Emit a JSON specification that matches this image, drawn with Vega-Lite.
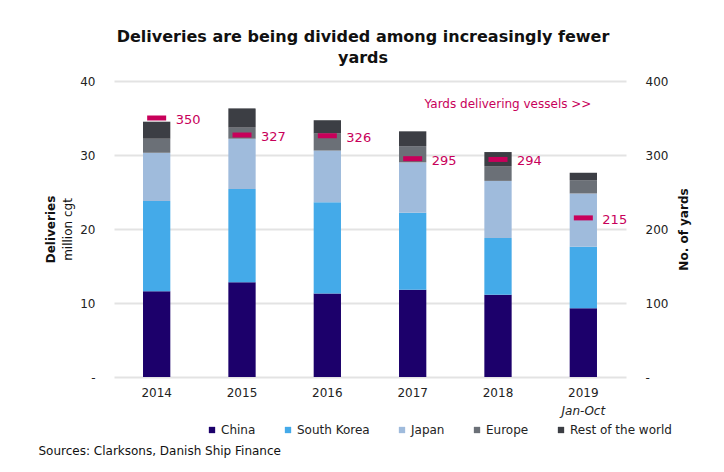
{
  "$schema": "https://vega.github.io/schema/vega-lite/v6.json",
  "width": 512,
  "height": 296,
  "autosize": {"type": "none"},
  "padding": {"left": 114, "top": 81, "right": 98, "bottom": 95},
  "background": "white",
  "config": {
    "view": {"stroke": null},
    "font": "DejaVu Sans",
    "axis": {"labelFont": "DejaVu Sans", "titleFont": "DejaVu Sans", "labelColor": "#222", "titleColor": "#111"},
    "legend": {"labelFont": "DejaVu Sans"}
  },
  "title": {
    "text": ["Deliveries are being divided among increasingly fewer", "yards"],
    "fontSize": 16,
    "fontWeight": "bold",
    "color": "#111",
    "lineHeight": 21,
    "offset": 9,
    "dx": -7
  },
  "datasets": {
    "deliveries": [
      {"year": "2014", "region": "China", "value": 11.6},
      {"year": "2014", "region": "South Korea", "value": 12.2},
      {"year": "2014", "region": "Japan", "value": 6.5},
      {"year": "2014", "region": "Europe", "value": 1.9},
      {"year": "2014", "region": "Rest of the world", "value": 2.3},
      {"year": "2015", "region": "China", "value": 12.8},
      {"year": "2015", "region": "South Korea", "value": 12.6},
      {"year": "2015", "region": "Japan", "value": 6.8},
      {"year": "2015", "region": "Europe", "value": 1.5},
      {"year": "2015", "region": "Rest of the world", "value": 2.6},
      {"year": "2016", "region": "China", "value": 11.3},
      {"year": "2016", "region": "South Korea", "value": 12.3},
      {"year": "2016", "region": "Japan", "value": 7.0},
      {"year": "2016", "region": "Europe", "value": 2.3},
      {"year": "2016", "region": "Rest of the world", "value": 1.8},
      {"year": "2017", "region": "China", "value": 11.8},
      {"year": "2017", "region": "South Korea", "value": 10.4},
      {"year": "2017", "region": "Japan", "value": 6.8},
      {"year": "2017", "region": "Europe", "value": 2.2},
      {"year": "2017", "region": "Rest of the world", "value": 2.0},
      {"year": "2018", "region": "China", "value": 11.1},
      {"year": "2018", "region": "South Korea", "value": 7.7},
      {"year": "2018", "region": "Japan", "value": 7.7},
      {"year": "2018", "region": "Europe", "value": 2.0},
      {"year": "2018", "region": "Rest of the world", "value": 1.9},
      {"year": "2019", "region": "China", "value": 9.3},
      {"year": "2019", "region": "South Korea", "value": 8.3},
      {"year": "2019", "region": "Japan", "value": 7.2},
      {"year": "2019", "region": "Europe", "value": 1.8},
      {"year": "2019", "region": "Rest of the world", "value": 1.0}
    ],
    "yards": [
      {"year": "2014", "yards": 350},
      {"year": "2015", "yards": 327},
      {"year": "2016", "yards": 326},
      {"year": "2017", "yards": 295},
      {"year": "2018", "yards": 294},
      {"year": "2019", "yards": 215}
    ],
    "annotation": [
      {"year": "2018", "yards": 369, "label": "Yards delivering vessels >>"}
    ],
    "notes": [
      {"year": "2019", "note": "Jan-Oct"}
    ]
  },
  "layer": [
    {
      "data": {"name": "deliveries"},
      "transform": [
        {"calculate": "indexof(['China', 'South Korea', 'Japan', 'Europe', 'Rest of the world'], datum.region)", "as": "stackOrder"}
      ],
      "mark": {"type": "bar"},
      "encoding": {
        "x": {
          "field": "year",
          "type": "ordinal",
          "scale": {"paddingInner": 0.68, "paddingOuter": 0.34},
          "axis": {
            "labelAngle": 0,
            "labelFontSize": 12,
            "labelPadding": 10,
            "domain": false,
            "ticks": false,
            "title": "Sources: Clarksons, Danish Ship Finance",
            "titleFontSize": 12,
            "titleFontWeight": "normal",
            "titleAlign": "left",
            "titleBaseline": "middle",
            "titleX": -76,
            "titleY": 73
          }
        },
        "y": {
          "field": "value",
          "type": "quantitative",
          "stack": "zero",
          "scale": {"domain": [0, 40]},
          "axis": {
            "orient": "left",
            "values": [0, 10, 20, 30, 40],
            "labelExpr": "datum.value == 0 ? '-' : datum.label",
            "labelFontSize": 12,
            "labelPadding": 19,
            "domain": false,
            "ticks": false,
            "grid": true,
            "gridColor": "#e3e3e3",
            "gridWidth": 2,
            "title": "Deliveries",
            "titleFontSize": 12,
            "titleFontWeight": "bold",
            "titleAngle": -90,
            "titleAlign": "center",
            "titleBaseline": "middle",
            "titleX": -64,
            "titleY": 148
          }
        },
        "order": {"field": "stackOrder", "type": "quantitative", "sort": "ascending"},
        "color": {
          "field": "region",
          "type": "nominal",
          "sort": ["China", "South Korea", "Japan", "Europe", "Rest of the world"],
          "scale": {
            "domain": ["China", "South Korea", "Japan", "Europe", "Rest of the world"],
            "range": ["#1c006b", "#44aae9", "#9fbbdc", "#6b7077", "#3c3e44"]
          },
          "legend": {
            "orient": "none",
            "legendX": 92,
            "legendY": 343,
            "direction": "horizontal",
            "title": null,
            "symbolType": "square",
            "symbolSize": 40,
            "labelFontSize": 12,
            "labelColor": "#222",
            "labelOffset": 3,
            "columnPadding": 26
          }
        }
      }
    },
    {
      "layer": [
        {
          "data": {"name": "yards"},
          "mark": {"type": "tick", "color": "#c8005a", "opacity": 1, "thickness": 5, "size": 19},
          "encoding": {
            "x": {"field": "year", "type": "ordinal"},
            "y": {
              "field": "yards",
              "type": "quantitative",
              "scale": {"domain": [0, 400]},
              "axis": {
                "orient": "right",
                "values": [0, 100, 200, 300, 400],
                "labelExpr": "datum.value == 0 ? '-' : datum.label",
                "labelFontSize": 12,
                "labelPadding": 19,
                "domain": false,
                "ticks": false,
                "grid": false,
                "title": "No. of yards",
                "titleFontSize": 12,
                "titleFontWeight": "bold",
                "titleAngle": -90,
                "titleAlign": "center",
                "titleBaseline": "middle",
                "titleX": 57,
                "titleY": 148
              }
            }
          }
        },
        {
          "data": {"name": "yards"},
          "mark": {"type": "text", "color": "#c8005a", "align": "left", "baseline": "middle", "dx": 19, "dy": 2, "fontSize": 13},
          "encoding": {
            "x": {"field": "year", "type": "ordinal"},
            "y": {"field": "yards", "type": "quantitative"},
            "text": {"field": "yards"}
          }
        },
        {
          "data": {"name": "annotation"},
          "mark": {"type": "text", "color": "#c8005a", "align": "center", "baseline": "middle", "dx": 10, "fontSize": 12},
          "encoding": {
            "x": {"field": "year", "type": "ordinal"},
            "y": {"field": "yards", "type": "quantitative"},
            "text": {"field": "label"}
          }
        }
      ]
    },
    {
      "data": {"name": "notes"},
      "mark": {"type": "text", "fontStyle": "italic", "fontSize": 12, "color": "#222", "baseline": "middle"},
      "encoding": {
        "x": {"field": "year", "type": "ordinal"},
        "y": {
          "datum": -4.6,
          "type": "quantitative",
          "scale": {"domain": [0, 40]},
          "axis": {
            "orient": "left",
            "labels": false,
            "ticks": false,
            "domain": false,
            "grid": false,
            "title": "million cgt",
            "titleFontSize": 12,
            "titleFontWeight": "normal",
            "titleAngle": -90,
            "titleAlign": "center",
            "titleBaseline": "middle",
            "titleX": -47,
            "titleY": 148
          }
        },
        "text": {"field": "note"}
      }
    }
  ],
  "resolve": {"scale": {"y": "independent"}}
}
